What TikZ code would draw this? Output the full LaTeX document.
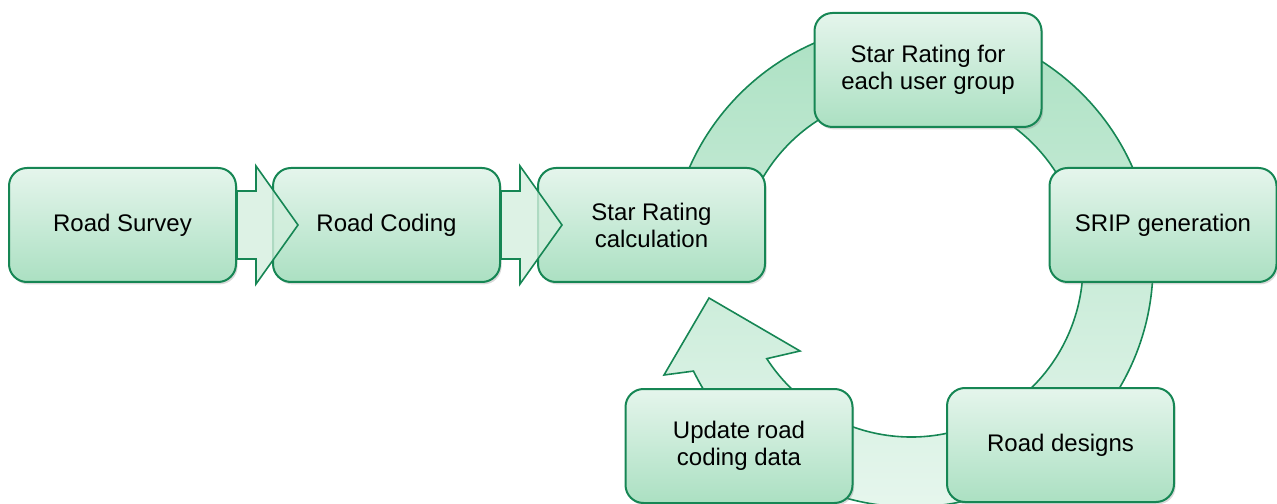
\documentclass[tikz,border=0pt]{standalone}
\usepackage{fontspec}
\setmainfont{Liberation Sans}
\usetikzlibrary{shadows,calc}

\definecolor{boxline}{RGB}{22,134,84}
\definecolor{boxtop}{RGB}{229,245,236}
\definecolor{boxbot}{RGB}{171,224,194}
\definecolor{ringtop}{RGB}{172,225,195}
\definecolor{ringbot}{RGB}{230,246,237}
\definecolor{chevfill}{RGB}{212,239,222}

\begin{document}
\begin{tikzpicture}[x=0.5pt,y=0.5pt,
    srbox/.style={draw=boxline, line width=1pt, rounded corners=9pt,
      top color=boxtop, bottom color=boxbot, minimum width=113.5pt,
      minimum height=57pt, align=center, font=\fontsize{12}{13.5}\selectfont,
      drop shadow={shadow xshift=0.8pt, shadow yshift=-1.2pt, opacity=0.3}},
    ring/.style={draw=boxline, line width=0.8pt, top color=ringtop,
      bottom color=ringbot},
    chev/.style={draw=boxline, line width=0.8pt, fill=chevfill,
      fill opacity=0.8}]
    \useasboundingbox (0,0) rectangle (1277,503);

    % cycle arrow, behind the boxes
    \coordinate (c) at (911,238);
    \draw[ring] ($(c)+(180:242)$) arc (180:-154:242) -- (664,128) --
      (709,205) -- (800,152) -- ($(c)+(-147:172)$) arc (-147:180:172) -- cycle;

    \node[srbox] (survey) at (122.5,278) {Road Survey};
    \node[srbox] (coding) at (386.5,278) {Road Coding};
    \node[srbox] (calc) at (651.5,278) {Star Rating\\calculation};
    \node[srbox] (group) at (928,433) {Star Rating for\\each user group};
    \node[srbox] (srip) at (1163,278) {SRIP generation};
    \node[srbox] (designs) at (1060.5,58) {Road designs};
    \node[srbox] (update) at (739,57) {Update road\\coding data};

    % chevrons between the first boxes
    \foreach \from in {survey,coding}
      \draw[chev] (\from.east) ++(0,34) -- ++(19,0) -- ++(0,25) --
        ++(42,-59) -- ++(-42,-59) -- ++(0,25) -- ++(-19,0) -- cycle;
  \end{tikzpicture}
\end{document}
